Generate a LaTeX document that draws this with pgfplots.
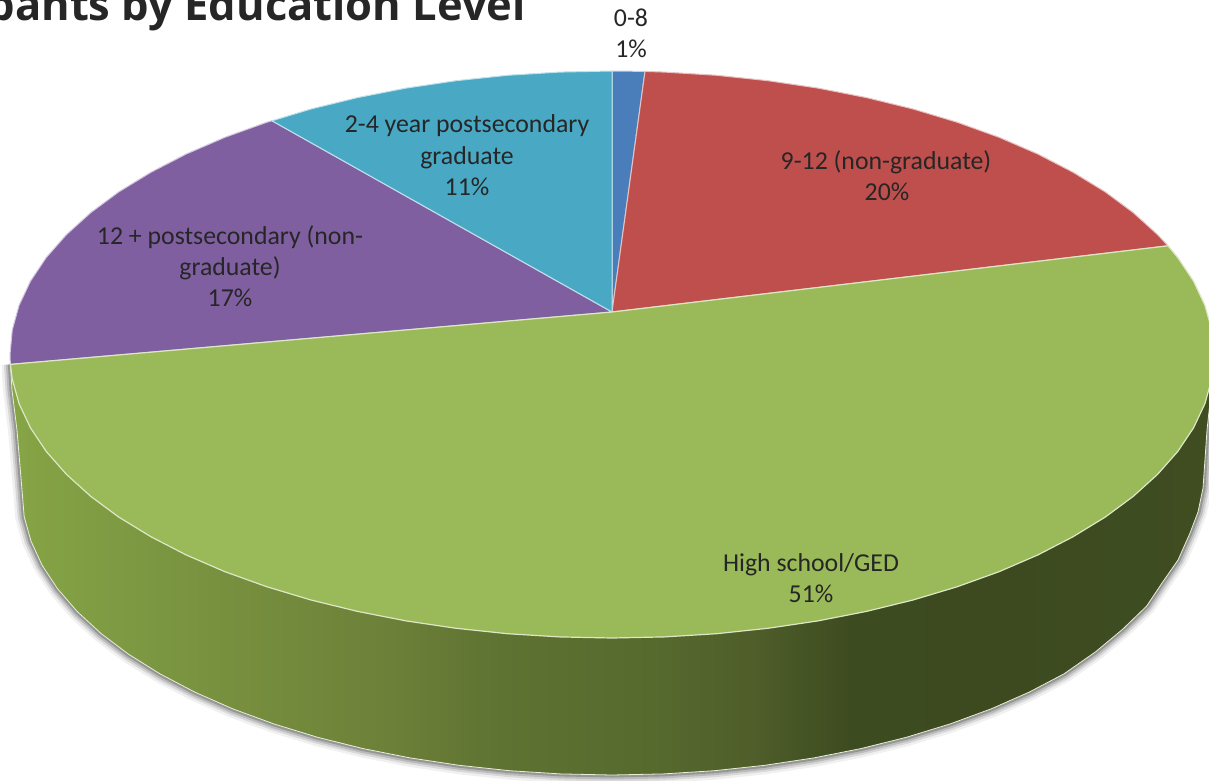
\documentclass[border=0pt]{standalone}
\usepackage{pgfplots}
\usepackage{pgfplotstable}
\usepackage{fontspec}
\setmainfont{Carlito}
\newfontfamily\titlefont{Open Sans}
\pgfplotsset{compat=1.18}
\definecolor{cblue}{HTML}{4A7EBB}
\definecolor{cred}{HTML}{BE4F4C}
\definecolor{cgreen}{HTML}{9ABA59}
\definecolor{cpurple}{HTML}{7F5FA0}
\definecolor{ccyan}{HTML}{49A9C5}
\definecolor{ctxt}{HTML}{262626}
\definecolor{sa}{HTML}{86A545}
\definecolor{sb}{HTML}{7F9C43}
\definecolor{sc}{HTML}{6C7F38}
\definecolor{sd}{HTML}{5E7232}
\definecolor{se}{HTML}{566A2E}
\definecolor{sf}{HTML}{4F5E2A}
\definecolor{sg}{HTML}{3D4B20}
\definecolor{sh}{HTML}{3D4A20}
\definecolor{si}{HTML}{3F4D21}
\tikzset{lab/.style={anchor=base, font=\fontsize{25.8}{30}\selectfont, text=ctxt, inner sep=0pt}}
\pgfdeclarehorizontalshading{sideshade}{100bp}{color(0bp)=(sa); color(25bp)=(sa); color(28.7bp)=(sb); color(41.2bp)=(sc); color(45.4bp)=(sd); color(51.6bp)=(se); color(55.8bp)=(sf); color(59.9bp)=(sg); color(66.1bp)=(sh); color(74.8bp)=(si); color(100bp)=(si)}
\pgfplotstableread{
10.4 364.4
12 390
17 430
22 490
24.2 516.7
31 541.1
42.1 565.2
57.6 588.8
77.3 611.6
101.1 633.5
128.7 654.3
160.1 673.9
194.8 692.1
232.7 708.8
273.6 723.8
317 737.1
362.7 748.5
410.2 757.9
459.3 765.3
509.6 770.7
560.6 773.9
612 775
663.4 773.9
714.4 770.7
764.7 765.3
813.8 757.9
861.3 748.5
907 737.1
950.4 723.8
991.3 708.8
1029.2 692.1
1063.9 673.9
1095.3 652
1122.9 629
1146.7 606
1162 583
1178 560
1190 533
1198 512
1203 488
1207 430
1213.5 370
}\siderim
\pgfplotstableread{
612 312
612 71
645 71.4
612 312
}\sliceblue
\pgfplotstableread{
612 312
645 71.4
664.5 72.1
716.5 75.3
767.8 80.7
817.9 88.1
866.4 97.6
913 109
957.3 122.3
999 137.3
1037.7 154
1073.1 172.3
1105.2 191.9
1133.3 212.7
1157.6 234.7
1168 245.8
612 312
}\slicered
\pgfplotstableread{
612 312
1168 245.8
1177.7 257.5
1193.5 281.1
1204.9 305.3
1211.7 329.8
1214 354.5
1211.7 379.2
1204.9 403.7
1193.5 427.9
1177.7 451.5
1157.6 474.3
1133.3 496.3
1105.2 517.1
1073.1 536.7
1037.7 555
999 571.7
957.3 586.7
913 600
866.4 611.4
817.9 620.9
767.8 628.3
716.5 633.7
664.5 636.9
612 638
559.5 636.9
507.5 633.7
456.2 628.3
406.1 620.9
357.6 611.4
311 600
266.7 586.7
225 571.7
186.3 555
150.9 536.7
118.8 517.1
90.7 496.3
66.4 474.3
46.3 451.5
30.5 427.9
19.1 403.7
12.3 379.2
10.4 364.4
612 312
}\slicegreen
\pgfplotstableread{
612 312
10.4 364.4
10 354.5
12.3 329.8
19.1 305.3
30.5 281.1
46.3 257.5
66.4 234.7
90.7 212.7
118.8 191.9
150.9 172.3
186.3 154
225 137.3
266.7 122.3
272 120.8
612 312
}\slicepurple
\pgfplotstableread{
612 312
272 120.8
311 109
357.6 97.6
406.1 88.1
456.2 80.7
507.5 75.3
559.5 72.1
612 71
612 312
}\slicecyan
\begin{document}
\begin{tikzpicture}
\useasboundingbox (0,0) rectangle (1209pt,781pt);
\clip (0,0) rectangle (1209pt,781pt);
\begin{axis}[
  at={(0,0)}, anchor=south west,
  scale only axis, width=1209pt, height=781pt,
  xmin=0, xmax=1209, ymin=0, ymax=781, y dir=reverse,
  hide axis, clip=false,
  every axis plot/.append style={mark=none, line join=round},
]
% soft shadow of the base
\addplot[draw=black, draw opacity=0.06, line width=18pt] table[x index=0,y index=1] {\siderim};
\addplot[draw=black, draw opacity=0.10, line width=13pt] table[x index=0,y index=1] {\siderim};
\addplot[draw=black, draw opacity=0.14, line width=9pt] table[x index=0,y index=1] {\siderim};
\addplot[draw=black, draw opacity=0.20, line width=5pt] table[x index=0,y index=1] {\siderim};
% side wall
\addplot[draw=none, shading=sideshade] table[x index=0,y index=1] {\siderim} --cycle;
\addplot[draw=white!75!cgreen, line width=0.8pt] table[x index=0,y index=1] {\siderim};
% top face
\addplot[fill=cblue, draw=white!65!cblue, line width=1pt] table[x index=0,y index=1] {\sliceblue};
\addplot[fill=cred, draw=white!65!cred, line width=1pt] table[x index=0,y index=1] {\slicered};
\addplot[fill=cpurple, draw=white!65!cpurple, line width=1pt] table[x index=0,y index=1] {\slicepurple};
\addplot[fill=ccyan, draw=white!65!ccyan, line width=1pt] table[x index=0,y index=1] {\slicecyan};
\addplot[fill=cgreen, draw=white!65!cgreen, line width=1.2pt] table[x index=0,y index=1] {\slicegreen};
% title and labels
\node[anchor=base east, inner sep=0pt, text=ctxt, font=\titlefont\fontsize{43.5}{48}\selectfont\bfseries] at (axis cs:526,21) {pants by Education Level};
\node[lab] at (axis cs:631,27) {0-8};
\node[lab] at (axis cs:631,58) {1\%};
\node[lab] at (axis cs:886,169) {9-12 (non-graduate)};
\node[lab] at (axis cs:887,200) {20\%};
\node[lab] at (axis cs:811,571) {High school/GED};
\node[lab] at (axis cs:811,602) {51\%};
\node[lab] at (axis cs:230,244) {12 + postsecondary (non-};
\node[lab] at (axis cs:230,275) {graduate)};
\node[lab] at (axis cs:230,306) {17\%};
\node[lab] at (axis cs:467,132) {2-4 year postsecondary};
\node[lab] at (axis cs:467,164) {graduate};
\node[lab] at (axis cs:467,195) {11\%};
\end{axis}
\end{tikzpicture}
\end{document}
